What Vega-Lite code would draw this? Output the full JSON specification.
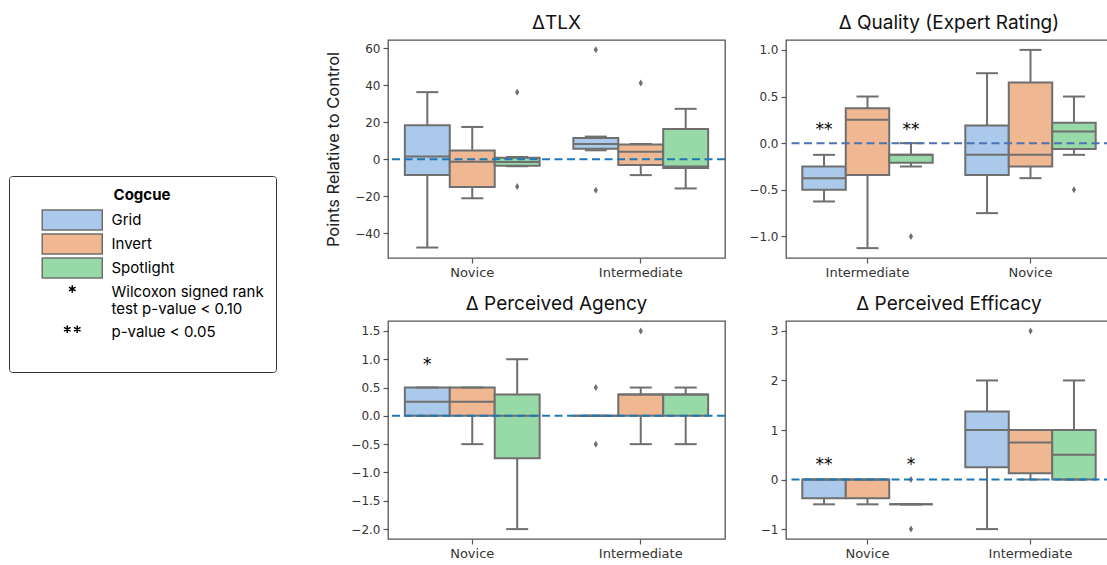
{
  "$schema": "https://vega.github.io/schema/vega-lite/v6.json",
  "padding": {"left": 8, "top": 13, "right": 0, "bottom": 0},
  "datasets": {
    "boxes": [
      {"panel": "TLX", "group": "Novice", "cogcue": "Grid", "lo": -47.7, "q1": -8.6, "med": 1.4, "q3": 18.3, "hi": 36.2},
      {"panel": "TLX", "group": "Novice", "cogcue": "Invert", "lo": -21.1, "q1": -15, "med": -1.4, "q3": 4.7, "hi": 17.4},
      {"panel": "TLX", "group": "Novice", "cogcue": "Spotlight", "lo": -3.8, "q1": -3.5, "med": -1.5, "q3": 0.8, "hi": 1.2},
      {"panel": "TLX", "group": "Intermediate", "cogcue": "Grid", "lo": 4.8, "q1": 5.7, "med": 8.2, "q3": 11.5, "hi": 12.2},
      {"panel": "TLX", "group": "Intermediate", "cogcue": "Invert", "lo": -8.6, "q1": -3.2, "med": 4, "q3": 7.9, "hi": 8.2},
      {"panel": "TLX", "group": "Intermediate", "cogcue": "Spotlight", "lo": -15.8, "q1": -4.8, "med": -4, "q3": 16.3, "hi": 27.2},
      {"panel": "Quality", "group": "Intermediate", "cogcue": "Grid", "lo": -0.625, "q1": -0.5, "med": -0.375, "q3": -0.25, "hi": -0.125},
      {"panel": "Quality", "group": "Intermediate", "cogcue": "Invert", "lo": -1.125, "q1": -0.34, "med": 0.25, "q3": 0.375, "hi": 0.5},
      {"panel": "Quality", "group": "Intermediate", "cogcue": "Spotlight", "lo": -0.25, "q1": -0.21, "med": -0.125, "q3": -0.125, "hi": 0},
      {"panel": "Quality", "group": "Novice", "cogcue": "Grid", "lo": -0.75, "q1": -0.34, "med": -0.125, "q3": 0.19, "hi": 0.75},
      {"panel": "Quality", "group": "Novice", "cogcue": "Invert", "lo": -0.375, "q1": -0.25, "med": -0.125, "q3": 0.65, "hi": 1.0},
      {"panel": "Quality", "group": "Novice", "cogcue": "Spotlight", "lo": -0.125, "q1": -0.0625, "med": 0.125, "q3": 0.22, "hi": 0.5},
      {"panel": "Agency", "group": "Novice", "cogcue": "Grid", "lo": 0, "q1": 0, "med": 0.25, "q3": 0.5, "hi": 0.5},
      {"panel": "Agency", "group": "Novice", "cogcue": "Invert", "lo": -0.5, "q1": 0, "med": 0.25, "q3": 0.5, "hi": 0.5},
      {"panel": "Agency", "group": "Novice", "cogcue": "Spotlight", "lo": -2.0, "q1": -0.75, "med": 0, "q3": 0.375, "hi": 1.0},
      {"panel": "Agency", "group": "Intermediate", "cogcue": "Grid", "lo": 0, "q1": 0, "med": 0, "q3": 0, "hi": 0},
      {"panel": "Agency", "group": "Intermediate", "cogcue": "Invert", "lo": -0.5, "q1": 0, "med": 0.375, "q3": 0.375, "hi": 0.5},
      {"panel": "Agency", "group": "Intermediate", "cogcue": "Spotlight", "lo": -0.5, "q1": 0, "med": 0.375, "q3": 0.375, "hi": 0.5},
      {"panel": "Efficacy", "group": "Novice", "cogcue": "Grid", "lo": -0.5, "q1": -0.375, "med": 0, "q3": 0, "hi": 0},
      {"panel": "Efficacy", "group": "Novice", "cogcue": "Invert", "lo": -0.5, "q1": -0.375, "med": 0, "q3": 0, "hi": 0},
      {"panel": "Efficacy", "group": "Novice", "cogcue": "Spotlight", "lo": -0.5, "q1": -0.5, "med": -0.5, "q3": -0.5, "hi": -0.5},
      {"panel": "Efficacy", "group": "Intermediate", "cogcue": "Grid", "lo": -1.0, "q1": 0.25, "med": 1.0, "q3": 1.375, "hi": 2.0},
      {"panel": "Efficacy", "group": "Intermediate", "cogcue": "Invert", "lo": 0, "q1": 0.125, "med": 0.75, "q3": 1.0, "hi": 1.0},
      {"panel": "Efficacy", "group": "Intermediate", "cogcue": "Spotlight", "lo": 0, "q1": 0, "med": 0.5, "q3": 1.0, "hi": 2.0}
    ],
    "outliers": [
      {"panel": "TLX", "group": "Novice", "cogcue": "Spotlight", "value": 36.2},
      {"panel": "TLX", "group": "Novice", "cogcue": "Spotlight", "value": -14.8},
      {"panel": "TLX", "group": "Intermediate", "cogcue": "Grid", "value": 59.1},
      {"panel": "TLX", "group": "Intermediate", "cogcue": "Grid", "value": -16.8},
      {"panel": "TLX", "group": "Intermediate", "cogcue": "Invert", "value": 41.2},
      {"panel": "Quality", "group": "Intermediate", "cogcue": "Spotlight", "value": -1.0},
      {"panel": "Quality", "group": "Novice", "cogcue": "Spotlight", "value": -0.5},
      {"panel": "Agency", "group": "Intermediate", "cogcue": "Grid", "value": 0.5},
      {"panel": "Agency", "group": "Intermediate", "cogcue": "Grid", "value": -0.5},
      {"panel": "Agency", "group": "Intermediate", "cogcue": "Invert", "value": 1.5},
      {"panel": "Efficacy", "group": "Novice", "cogcue": "Spotlight", "value": 0},
      {"panel": "Efficacy", "group": "Novice", "cogcue": "Spotlight", "value": -1.0},
      {"panel": "Efficacy", "group": "Intermediate", "cogcue": "Invert", "value": 3.0}
    ],
    "stars": [
      {"panel": "Quality", "group": "Intermediate", "cogcue": "Grid", "y": 0.18, "label": "**"},
      {"panel": "Quality", "group": "Intermediate", "cogcue": "Spotlight", "y": 0.18, "label": "**"},
      {"panel": "Agency", "group": "Novice", "cogcue": "Grid", "y": 0.97, "label": "*"},
      {"panel": "Efficacy", "group": "Novice", "cogcue": "Grid", "y": 0.38, "label": "**"},
      {"panel": "Efficacy", "group": "Novice", "cogcue": "Spotlight", "y": 0.38, "label": "*"}
    ]
  },
  "columns": 2,
  "spacing": {"row": 14, "column": 21},
  "resolve": {"scale": {"x": "independent", "y": "independent", "xOffset": "independent"}},
  "concat": [
    {
      "title": "ΔTLX",
      "width": 337, "height": 218,
      "layer": [
        {"data": {"name": "boxes"}, "transform": [{"filter": "datum.panel == 'TLX'"}],
         "mark": {"type": "rule", "color": "#6f6f6f", "strokeWidth": 2},
         "encoding": {
           "x": {"field": "group", "type": "nominal", "scale": {"domain": ["Novice", "Intermediate"], "paddingInner": 0, "paddingOuter": 0}},
           "xOffset": {"field": "cogcue", "type": "nominal", "scale": {"domain": ["Grid", "Invert", "Spotlight"], "paddingInner": 0, "paddingOuter": 0.375}},
           "y": {"field": "lo", "type": "quantitative", "scale": {"domain": [-53.35, 64.35], "nice": false, "zero": false}, "axis": {"values": [-40, -20, 0, 20, 40, 60], "tickCount": 12, "format": "d", "labelOverlap": false, "title": "Points Relative to Control"}},
           "y2": {"field": "hi"}}},
        {"data": {"name": "boxes"}, "transform": [{"filter": "datum.panel == 'TLX'"}],
         "mark": {"type": "bar", "stroke": "#6f6f6f", "strokeWidth": 2},
         "encoding": {
           "x": {"field": "group", "type": "nominal", "scale": {"domain": ["Novice", "Intermediate"], "paddingInner": 0, "paddingOuter": 0}},
           "xOffset": {"field": "cogcue", "type": "nominal", "scale": {"domain": ["Grid", "Invert", "Spotlight"], "paddingInner": 0, "paddingOuter": 0.375}},
           "y": {"field": "q1", "type": "quantitative", "scale": {"domain": [-53.35, 64.35], "nice": false, "zero": false}},
           "y2": {"field": "q3"},
           "fill": {"field": "cogcue", "type": "nominal", "title": "Cogcue",
             "scale": {"domain": ["Grid", "Invert", "Spotlight", "sig1", "sig2", "pad"], "range": ["#abc9ea", "#efb792", "#98daa7", "transparent", "transparent", "transparent"]}}}},
        {"data": {"name": "boxes"}, "transform": [{"filter": "datum.panel == 'TLX'"}],
         "mark": {"type": "bar", "fill": "transparent", "stroke": "#6f6f6f", "strokeWidth": 2},
         "encoding": {
           "x": {"field": "group", "type": "nominal", "scale": {"domain": ["Novice", "Intermediate"], "paddingInner": 0, "paddingOuter": 0}},
           "xOffset": {"field": "cogcue", "type": "nominal", "scale": {"domain": ["Grid", "Invert", "Spotlight"], "paddingInner": 0, "paddingOuter": 0.375}},
           "y": {"field": "med", "type": "quantitative", "scale": {"domain": [-53.35, 64.35], "nice": false, "zero": false}},
           "y2": {"field": "med"}}},
        {"data": {"name": "boxes"}, "transform": [{"filter": "datum.panel == 'TLX'"}],
         "mark": {"type": "tick", "color": "#6f6f6f", "size": 22, "thickness": 2, "opacity": 1},
         "encoding": {
           "x": {"field": "group", "type": "nominal", "scale": {"domain": ["Novice", "Intermediate"], "paddingInner": 0, "paddingOuter": 0}},
           "xOffset": {"field": "cogcue", "type": "nominal", "scale": {"domain": ["Grid", "Invert", "Spotlight"], "paddingInner": 0, "paddingOuter": 0.375}},
           "y": {"field": "lo", "type": "quantitative", "scale": {"domain": [-53.35, 64.35], "nice": false, "zero": false}}}},
        {"data": {"name": "boxes"}, "transform": [{"filter": "datum.panel == 'TLX'"}],
         "mark": {"type": "tick", "color": "#6f6f6f", "size": 22, "thickness": 2, "opacity": 1},
         "encoding": {
           "x": {"field": "group", "type": "nominal", "scale": {"domain": ["Novice", "Intermediate"], "paddingInner": 0, "paddingOuter": 0}},
           "xOffset": {"field": "cogcue", "type": "nominal", "scale": {"domain": ["Grid", "Invert", "Spotlight"], "paddingInner": 0, "paddingOuter": 0.375}},
           "y": {"field": "hi", "type": "quantitative", "scale": {"domain": [-53.35, 64.35], "nice": false, "zero": false}}}},
        {"data": {"name": "outliers"}, "transform": [{"filter": "datum.panel == 'TLX'"}],
         "mark": {"type": "point", "shape": "M0,-1L0.6,0L0,1L-0.6,0Z", "size": 49, "filled": true, "color": "#6f6f6f", "opacity": 1},
         "encoding": {
           "x": {"field": "group", "type": "nominal", "scale": {"domain": ["Novice", "Intermediate"], "paddingInner": 0, "paddingOuter": 0}},
           "xOffset": {"field": "cogcue", "type": "nominal", "scale": {"domain": ["Grid", "Invert", "Spotlight"], "paddingInner": 0, "paddingOuter": 0.375}},
           "y": {"field": "value", "type": "quantitative", "scale": {"domain": [-53.35, 64.35], "nice": false, "zero": false}}}},
        {"data": {"values": [{}]},
         "mark": {"type": "rule", "color": "#1f77b4", "strokeWidth": 2, "strokeDash": [8, 4.5]},
         "encoding": {"y": {"datum": 0, "type": "quantitative", "scale": {"domain": [-53.35, 64.35], "nice": false, "zero": false}}}},
        {"data": {"name": "boxes"}, "transform": [{"filter": "datum.panel == 'TLX'"}],
         "mark": {"type": "point", "filled": true, "opacity": 0},
         "encoding": {
           "x": {"field": "group", "type": "nominal", "scale": {"domain": ["Novice", "Intermediate"], "paddingInner": 0, "paddingOuter": 0}},
           "xOffset": {"field": "cogcue", "type": "nominal", "scale": {"domain": ["Grid", "Invert", "Spotlight"], "paddingInner": 0, "paddingOuter": 0.375}},
           "y": {"field": "med", "type": "quantitative", "scale": {"domain": [-53.35, 64.35], "nice": false, "zero": false}},
           "fill": {"field": "cogcue", "type": "nominal", "title": "Cogcue",
             "scale": {"domain": ["Grid", "Invert", "Spotlight", "sig1", "sig2", "pad"], "range": ["#abc9ea", "#efb792", "#98daa7", "transparent", "transparent", "transparent"]},
             "legend": {"labelExpr": "datum.value == 'sig1' ? ['Wilcoxon signed rank', 'test p-value < 0.10'] : (datum.value == 'sig2' ? 'p-value < 0.05' : (datum.value == 'pad' ? '' : datum.label))"}},
           "stroke": {"field": "cogcue", "type": "nominal", "title": "Cogcue",
             "scale": {"domain": ["Grid", "Invert", "Spotlight", "sig1", "sig2", "pad"], "range": ["#6f6f6f", "#6f6f6f", "#6f6f6f", "#000000", "#000000", "transparent"]},
             "legend": {"labelExpr": "datum.value == 'sig1' ? ['Wilcoxon signed rank', 'test p-value < 0.10'] : (datum.value == 'sig2' ? 'p-value < 0.05' : (datum.value == 'pad' ? '' : datum.label))"}},
           "shape": {"field": "cogcue", "type": "nominal", "title": "Cogcue",
             "scale": {"domain": ["Grid", "Invert", "Spotlight", "sig1", "sig2", "pad"], "range": ["M-3,-1H3V1H-3Z", "M-3,-1H3V1H-3Z", "M-3,-1H3V1H-3Z", "M0,-0.68L0,0.08M-0.329,-0.49L0.329,-0.11M-0.329,-0.11L0.329,-0.49", "M0,-1.5M-0.5,-0.68L-0.5,0.08M-0.829,-0.49L-0.171,-0.11M-0.829,-0.11L-0.171,-0.49M0.5,-0.68L0.5,0.08M0.171,-0.49L0.829,-0.11M0.171,-0.11L0.829,-0.49", "M-0.1,-0.1H0.1V0.1H-0.1Z"]},
             "legend": {"labelExpr": "datum.value == 'sig1' ? ['Wilcoxon signed rank', 'test p-value < 0.10'] : (datum.value == 'sig2' ? 'p-value < 0.05' : (datum.value == 'pad' ? '' : datum.label))"}}}}
      ]
    },
    {
      "title": "Δ Quality (Expert Rating)",
      "width": 326, "height": 218,
      "layer": [
        {"data": {"name": "boxes"}, "transform": [{"filter": "datum.panel == 'Quality'"}],
         "mark": {"type": "rule", "color": "#6f6f6f", "strokeWidth": 2},
         "encoding": {
           "x": {"field": "group", "type": "nominal", "scale": {"domain": ["Intermediate", "Novice"], "paddingInner": 0, "paddingOuter": 0}},
           "xOffset": {"field": "cogcue", "type": "nominal", "scale": {"domain": ["Grid", "Invert", "Spotlight"], "paddingInner": 0, "paddingOuter": 0.375}},
           "y": {"field": "lo", "type": "quantitative", "scale": {"domain": [-1.231, 1.106], "nice": false, "zero": false}, "axis": {"values": [-1, -0.5, 0, 0.5, 1], "tickCount": 12, "format": ".1f", "labelOverlap": false, "title": null}},
           "y2": {"field": "hi"}}},
        {"data": {"name": "boxes"}, "transform": [{"filter": "datum.panel == 'Quality'"}],
         "mark": {"type": "bar", "stroke": "#6f6f6f", "strokeWidth": 2},
         "encoding": {
           "x": {"field": "group", "type": "nominal", "scale": {"domain": ["Intermediate", "Novice"], "paddingInner": 0, "paddingOuter": 0}},
           "xOffset": {"field": "cogcue", "type": "nominal", "scale": {"domain": ["Grid", "Invert", "Spotlight"], "paddingInner": 0, "paddingOuter": 0.375}},
           "y": {"field": "q1", "type": "quantitative", "scale": {"domain": [-1.231, 1.106], "nice": false, "zero": false}},
           "y2": {"field": "q3"},
           "fill": {"field": "cogcue", "type": "nominal", "title": "Cogcue",
             "scale": {"domain": ["Grid", "Invert", "Spotlight", "sig1", "sig2", "pad"], "range": ["#abc9ea", "#efb792", "#98daa7", "transparent", "transparent", "transparent"]}}}},
        {"data": {"name": "boxes"}, "transform": [{"filter": "datum.panel == 'Quality'"}],
         "mark": {"type": "bar", "fill": "transparent", "stroke": "#6f6f6f", "strokeWidth": 2},
         "encoding": {
           "x": {"field": "group", "type": "nominal", "scale": {"domain": ["Intermediate", "Novice"], "paddingInner": 0, "paddingOuter": 0}},
           "xOffset": {"field": "cogcue", "type": "nominal", "scale": {"domain": ["Grid", "Invert", "Spotlight"], "paddingInner": 0, "paddingOuter": 0.375}},
           "y": {"field": "med", "type": "quantitative", "scale": {"domain": [-1.231, 1.106], "nice": false, "zero": false}},
           "y2": {"field": "med"}}},
        {"data": {"name": "boxes"}, "transform": [{"filter": "datum.panel == 'Quality'"}],
         "mark": {"type": "tick", "color": "#6f6f6f", "size": 22, "thickness": 2, "opacity": 1},
         "encoding": {
           "x": {"field": "group", "type": "nominal", "scale": {"domain": ["Intermediate", "Novice"], "paddingInner": 0, "paddingOuter": 0}},
           "xOffset": {"field": "cogcue", "type": "nominal", "scale": {"domain": ["Grid", "Invert", "Spotlight"], "paddingInner": 0, "paddingOuter": 0.375}},
           "y": {"field": "lo", "type": "quantitative", "scale": {"domain": [-1.231, 1.106], "nice": false, "zero": false}}}},
        {"data": {"name": "boxes"}, "transform": [{"filter": "datum.panel == 'Quality'"}],
         "mark": {"type": "tick", "color": "#6f6f6f", "size": 22, "thickness": 2, "opacity": 1},
         "encoding": {
           "x": {"field": "group", "type": "nominal", "scale": {"domain": ["Intermediate", "Novice"], "paddingInner": 0, "paddingOuter": 0}},
           "xOffset": {"field": "cogcue", "type": "nominal", "scale": {"domain": ["Grid", "Invert", "Spotlight"], "paddingInner": 0, "paddingOuter": 0.375}},
           "y": {"field": "hi", "type": "quantitative", "scale": {"domain": [-1.231, 1.106], "nice": false, "zero": false}}}},
        {"data": {"name": "outliers"}, "transform": [{"filter": "datum.panel == 'Quality'"}],
         "mark": {"type": "point", "shape": "M0,-1L0.6,0L0,1L-0.6,0Z", "size": 49, "filled": true, "color": "#6f6f6f", "opacity": 1},
         "encoding": {
           "x": {"field": "group", "type": "nominal", "scale": {"domain": ["Intermediate", "Novice"], "paddingInner": 0, "paddingOuter": 0}},
           "xOffset": {"field": "cogcue", "type": "nominal", "scale": {"domain": ["Grid", "Invert", "Spotlight"], "paddingInner": 0, "paddingOuter": 0.375}},
           "y": {"field": "value", "type": "quantitative", "scale": {"domain": [-1.231, 1.106], "nice": false, "zero": false}}}},
        {"data": {"values": [{}]},
         "mark": {"type": "rule", "color": "#4c72b0", "strokeWidth": 2, "strokeDash": [8, 4.5]},
         "encoding": {"y": {"datum": 0, "type": "quantitative", "scale": {"domain": [-1.231, 1.106], "nice": false, "zero": false}}}},
        {"data": {"name": "stars"}, "transform": [{"filter": "datum.panel == 'Quality'"}],
         "mark": {"type": "text", "font": "DejaVu Sans", "fontSize": 17, "color": "#000000", "baseline": "middle", "dy": 4},
         "encoding": {
           "x": {"field": "group", "type": "nominal", "scale": {"domain": ["Intermediate", "Novice"], "paddingInner": 0, "paddingOuter": 0}},
           "xOffset": {"field": "cogcue", "type": "nominal", "scale": {"domain": ["Grid", "Invert", "Spotlight"], "paddingInner": 0, "paddingOuter": 0.375}},
           "y": {"field": "y", "type": "quantitative", "scale": {"domain": [-1.231, 1.106], "nice": false, "zero": false}},
           "text": {"field": "label"}}}
      ]
    },
    {
      "title": "Δ Perceived Agency",
      "width": 337, "height": 218,
      "layer": [
        {"data": {"name": "boxes"}, "transform": [{"filter": "datum.panel == 'Agency'"}],
         "mark": {"type": "rule", "color": "#6f6f6f", "strokeWidth": 2},
         "encoding": {
           "x": {"field": "group", "type": "nominal", "scale": {"domain": ["Novice", "Intermediate"], "paddingInner": 0, "paddingOuter": 0}},
           "xOffset": {"field": "cogcue", "type": "nominal", "scale": {"domain": ["Grid", "Invert", "Spotlight"], "paddingInner": 0, "paddingOuter": 0.375}},
           "y": {"field": "lo", "type": "quantitative", "scale": {"domain": [-2.175, 1.675], "nice": false, "zero": false}, "axis": {"values": [-2, -1.5, -1, -0.5, 0, 0.5, 1, 1.5], "tickCount": 12, "format": ".1f", "labelOverlap": false, "title": null}},
           "y2": {"field": "hi"}}},
        {"data": {"name": "boxes"}, "transform": [{"filter": "datum.panel == 'Agency'"}],
         "mark": {"type": "bar", "stroke": "#6f6f6f", "strokeWidth": 2},
         "encoding": {
           "x": {"field": "group", "type": "nominal", "scale": {"domain": ["Novice", "Intermediate"], "paddingInner": 0, "paddingOuter": 0}},
           "xOffset": {"field": "cogcue", "type": "nominal", "scale": {"domain": ["Grid", "Invert", "Spotlight"], "paddingInner": 0, "paddingOuter": 0.375}},
           "y": {"field": "q1", "type": "quantitative", "scale": {"domain": [-2.175, 1.675], "nice": false, "zero": false}},
           "y2": {"field": "q3"},
           "fill": {"field": "cogcue", "type": "nominal", "title": "Cogcue",
             "scale": {"domain": ["Grid", "Invert", "Spotlight", "sig1", "sig2", "pad"], "range": ["#abc9ea", "#efb792", "#98daa7", "transparent", "transparent", "transparent"]}}}},
        {"data": {"name": "boxes"}, "transform": [{"filter": "datum.panel == 'Agency'"}],
         "mark": {"type": "bar", "fill": "transparent", "stroke": "#6f6f6f", "strokeWidth": 2},
         "encoding": {
           "x": {"field": "group", "type": "nominal", "scale": {"domain": ["Novice", "Intermediate"], "paddingInner": 0, "paddingOuter": 0}},
           "xOffset": {"field": "cogcue", "type": "nominal", "scale": {"domain": ["Grid", "Invert", "Spotlight"], "paddingInner": 0, "paddingOuter": 0.375}},
           "y": {"field": "med", "type": "quantitative", "scale": {"domain": [-2.175, 1.675], "nice": false, "zero": false}},
           "y2": {"field": "med"}}},
        {"data": {"name": "boxes"}, "transform": [{"filter": "datum.panel == 'Agency'"}],
         "mark": {"type": "tick", "color": "#6f6f6f", "size": 22, "thickness": 2, "opacity": 1},
         "encoding": {
           "x": {"field": "group", "type": "nominal", "scale": {"domain": ["Novice", "Intermediate"], "paddingInner": 0, "paddingOuter": 0}},
           "xOffset": {"field": "cogcue", "type": "nominal", "scale": {"domain": ["Grid", "Invert", "Spotlight"], "paddingInner": 0, "paddingOuter": 0.375}},
           "y": {"field": "lo", "type": "quantitative", "scale": {"domain": [-2.175, 1.675], "nice": false, "zero": false}}}},
        {"data": {"name": "boxes"}, "transform": [{"filter": "datum.panel == 'Agency'"}],
         "mark": {"type": "tick", "color": "#6f6f6f", "size": 22, "thickness": 2, "opacity": 1},
         "encoding": {
           "x": {"field": "group", "type": "nominal", "scale": {"domain": ["Novice", "Intermediate"], "paddingInner": 0, "paddingOuter": 0}},
           "xOffset": {"field": "cogcue", "type": "nominal", "scale": {"domain": ["Grid", "Invert", "Spotlight"], "paddingInner": 0, "paddingOuter": 0.375}},
           "y": {"field": "hi", "type": "quantitative", "scale": {"domain": [-2.175, 1.675], "nice": false, "zero": false}}}},
        {"data": {"name": "outliers"}, "transform": [{"filter": "datum.panel == 'Agency'"}],
         "mark": {"type": "point", "shape": "M0,-1L0.6,0L0,1L-0.6,0Z", "size": 49, "filled": true, "color": "#6f6f6f", "opacity": 1},
         "encoding": {
           "x": {"field": "group", "type": "nominal", "scale": {"domain": ["Novice", "Intermediate"], "paddingInner": 0, "paddingOuter": 0}},
           "xOffset": {"field": "cogcue", "type": "nominal", "scale": {"domain": ["Grid", "Invert", "Spotlight"], "paddingInner": 0, "paddingOuter": 0.375}},
           "y": {"field": "value", "type": "quantitative", "scale": {"domain": [-2.175, 1.675], "nice": false, "zero": false}}}},
        {"data": {"values": [{}]},
         "mark": {"type": "rule", "color": "#1f77b4", "strokeWidth": 2, "strokeDash": [8, 4.5]},
         "encoding": {"y": {"datum": 0, "type": "quantitative", "scale": {"domain": [-2.175, 1.675], "nice": false, "zero": false}}}},
        {"data": {"name": "stars"}, "transform": [{"filter": "datum.panel == 'Agency'"}],
         "mark": {"type": "text", "font": "DejaVu Sans", "fontSize": 17, "color": "#000000", "baseline": "middle", "dy": 4},
         "encoding": {
           "x": {"field": "group", "type": "nominal", "scale": {"domain": ["Novice", "Intermediate"], "paddingInner": 0, "paddingOuter": 0}},
           "xOffset": {"field": "cogcue", "type": "nominal", "scale": {"domain": ["Grid", "Invert", "Spotlight"], "paddingInner": 0, "paddingOuter": 0.375}},
           "y": {"field": "y", "type": "quantitative", "scale": {"domain": [-2.175, 1.675], "nice": false, "zero": false}},
           "text": {"field": "label"}}}
      ]
    },
    {
      "title": "Δ Perceived Efficacy",
      "width": 326, "height": 218,
      "layer": [
        {"data": {"name": "boxes"}, "transform": [{"filter": "datum.panel == 'Efficacy'"}],
         "mark": {"type": "rule", "color": "#6f6f6f", "strokeWidth": 2},
         "encoding": {
           "x": {"field": "group", "type": "nominal", "scale": {"domain": ["Novice", "Intermediate"], "paddingInner": 0, "paddingOuter": 0}},
           "xOffset": {"field": "cogcue", "type": "nominal", "scale": {"domain": ["Grid", "Invert", "Spotlight"], "paddingInner": 0, "paddingOuter": 0.375}},
           "y": {"field": "lo", "type": "quantitative", "scale": {"domain": [-1.2, 3.2], "nice": false, "zero": false}, "axis": {"values": [-1, 0, 1, 2, 3], "tickCount": 12, "format": "d", "labelOverlap": false, "title": null}},
           "y2": {"field": "hi"}}},
        {"data": {"name": "boxes"}, "transform": [{"filter": "datum.panel == 'Efficacy'"}],
         "mark": {"type": "bar", "stroke": "#6f6f6f", "strokeWidth": 2},
         "encoding": {
           "x": {"field": "group", "type": "nominal", "scale": {"domain": ["Novice", "Intermediate"], "paddingInner": 0, "paddingOuter": 0}},
           "xOffset": {"field": "cogcue", "type": "nominal", "scale": {"domain": ["Grid", "Invert", "Spotlight"], "paddingInner": 0, "paddingOuter": 0.375}},
           "y": {"field": "q1", "type": "quantitative", "scale": {"domain": [-1.2, 3.2], "nice": false, "zero": false}},
           "y2": {"field": "q3"},
           "fill": {"field": "cogcue", "type": "nominal", "title": "Cogcue",
             "scale": {"domain": ["Grid", "Invert", "Spotlight", "sig1", "sig2", "pad"], "range": ["#abc9ea", "#efb792", "#98daa7", "transparent", "transparent", "transparent"]}}}},
        {"data": {"name": "boxes"}, "transform": [{"filter": "datum.panel == 'Efficacy'"}],
         "mark": {"type": "bar", "fill": "transparent", "stroke": "#6f6f6f", "strokeWidth": 2},
         "encoding": {
           "x": {"field": "group", "type": "nominal", "scale": {"domain": ["Novice", "Intermediate"], "paddingInner": 0, "paddingOuter": 0}},
           "xOffset": {"field": "cogcue", "type": "nominal", "scale": {"domain": ["Grid", "Invert", "Spotlight"], "paddingInner": 0, "paddingOuter": 0.375}},
           "y": {"field": "med", "type": "quantitative", "scale": {"domain": [-1.2, 3.2], "nice": false, "zero": false}},
           "y2": {"field": "med"}}},
        {"data": {"name": "boxes"}, "transform": [{"filter": "datum.panel == 'Efficacy'"}],
         "mark": {"type": "tick", "color": "#6f6f6f", "size": 22, "thickness": 2, "opacity": 1},
         "encoding": {
           "x": {"field": "group", "type": "nominal", "scale": {"domain": ["Novice", "Intermediate"], "paddingInner": 0, "paddingOuter": 0}},
           "xOffset": {"field": "cogcue", "type": "nominal", "scale": {"domain": ["Grid", "Invert", "Spotlight"], "paddingInner": 0, "paddingOuter": 0.375}},
           "y": {"field": "lo", "type": "quantitative", "scale": {"domain": [-1.2, 3.2], "nice": false, "zero": false}}}},
        {"data": {"name": "boxes"}, "transform": [{"filter": "datum.panel == 'Efficacy'"}],
         "mark": {"type": "tick", "color": "#6f6f6f", "size": 22, "thickness": 2, "opacity": 1},
         "encoding": {
           "x": {"field": "group", "type": "nominal", "scale": {"domain": ["Novice", "Intermediate"], "paddingInner": 0, "paddingOuter": 0}},
           "xOffset": {"field": "cogcue", "type": "nominal", "scale": {"domain": ["Grid", "Invert", "Spotlight"], "paddingInner": 0, "paddingOuter": 0.375}},
           "y": {"field": "hi", "type": "quantitative", "scale": {"domain": [-1.2, 3.2], "nice": false, "zero": false}}}},
        {"data": {"name": "outliers"}, "transform": [{"filter": "datum.panel == 'Efficacy'"}],
         "mark": {"type": "point", "shape": "M0,-1L0.6,0L0,1L-0.6,0Z", "size": 49, "filled": true, "color": "#6f6f6f", "opacity": 1},
         "encoding": {
           "x": {"field": "group", "type": "nominal", "scale": {"domain": ["Novice", "Intermediate"], "paddingInner": 0, "paddingOuter": 0}},
           "xOffset": {"field": "cogcue", "type": "nominal", "scale": {"domain": ["Grid", "Invert", "Spotlight"], "paddingInner": 0, "paddingOuter": 0.375}},
           "y": {"field": "value", "type": "quantitative", "scale": {"domain": [-1.2, 3.2], "nice": false, "zero": false}}}},
        {"data": {"values": [{}]},
         "mark": {"type": "rule", "color": "#1f77b4", "strokeWidth": 2, "strokeDash": [8, 4.5]},
         "encoding": {"y": {"datum": 0, "type": "quantitative", "scale": {"domain": [-1.2, 3.2], "nice": false, "zero": false}}}},
        {"data": {"name": "stars"}, "transform": [{"filter": "datum.panel == 'Efficacy'"}],
         "mark": {"type": "text", "font": "DejaVu Sans", "fontSize": 17, "color": "#000000", "baseline": "middle", "dy": 4},
         "encoding": {
           "x": {"field": "group", "type": "nominal", "scale": {"domain": ["Novice", "Intermediate"], "paddingInner": 0, "paddingOuter": 0}},
           "xOffset": {"field": "cogcue", "type": "nominal", "scale": {"domain": ["Grid", "Invert", "Spotlight"], "paddingInner": 0, "paddingOuter": 0.375}},
           "y": {"field": "y", "type": "quantitative", "scale": {"domain": [-1.2, 3.2], "nice": false, "zero": false}},
           "text": {"field": "label"}}}
      ]
    }
  ],
  "config": {
    "font": "DejaVu Sans",
    "background": "white",
    "view": {"stroke": "#555555", "strokeWidth": 1.3},
    "axis": {"domain": false, "grid": false, "labelOverlap": false, "labelFont": "DejaVu Sans", "labelFontSize": 12, "labelColor": "#333333", "tickColor": "#555555", "tickSize": 5, "tickWidth": 1.2, "labelPadding": 3, "titleFont": "Inter", "titleFontSize": 16.5, "titleFontWeight": "normal", "titleColor": "#222222", "titlePadding": 13},
    "axisX": {"labelAngle": 0, "title": null, "labelFontSize": 13},
    "title": {"font": "Inter", "fontSize": 19, "fontWeight": "normal", "color": "#111111", "offset": 7},
    "legend": {
      "orient": "none", "legendX": -379, "legendY": 136,
      "titleFont": "Inter", "titleFontSize": 15, "titleFontWeight": "bold", "titleColor": "#000000", "titleAnchor": "middle", "titlePadding": 6,
      "labelFont": "Inter", "labelFontSize": 15, "labelColor": "#000000", "labelLimit": 300, "labelOffset": 28.25,
      "symbolSize": 400, "symbolOffset": 40.25, "symbolStrokeWidth": 1.5, "symbolOpacity": 1,
      "rowPadding": -2.75, "padding": 12, "strokeColor": "#333333", "cornerRadius": 3, "fillColor": "white"
    }
  }
}
